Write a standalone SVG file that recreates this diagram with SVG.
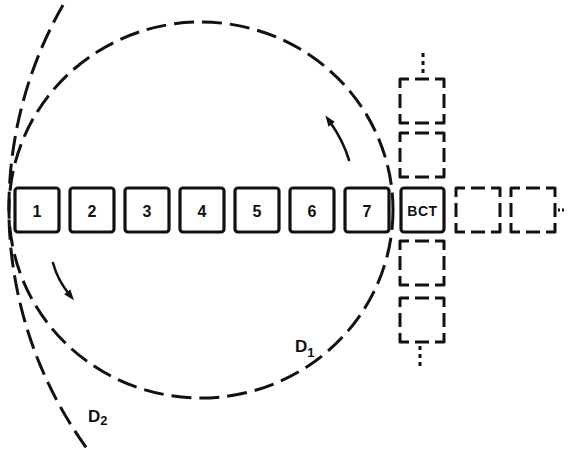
<svg xmlns="http://www.w3.org/2000/svg" width="569" height="450" viewBox="0 0 569 450">
  <defs>
    <style>
      .bg { fill: #ffffff; }
      .orbit { fill: none; stroke: #111; stroke-width: 3; stroke-dasharray: 20 8; stroke-linecap: butt; }
      .box { fill: #ffffff; stroke: #111; stroke-width: 3.2; }
      .slot { fill: none; stroke: #111; stroke-width: 3; stroke-dasharray: 18 6 14 6; stroke-dashoffset: 9; stroke-linejoin: round; }
      .dots { fill: none; stroke: #111; stroke-width: 3; stroke-dasharray: 4 4; }
      .flow { fill: none; stroke: #111; stroke-width: 2.6; stroke-linecap: round; }
      .num { font-family: "Liberation Sans", Arial, sans-serif; font-weight: bold; font-size: 16px; fill: #111; text-anchor: middle; }
      .bct { font-family: "Liberation Sans", Arial, sans-serif; font-weight: bold; font-size: 14px; fill: #111; text-anchor: middle; letter-spacing: 0.5px; }
      .lbl { font-family: "Liberation Sans", Arial, sans-serif; font-weight: bold; font-size: 17px; fill: #111; }
      .sub { font-size: 13px; }
    </style>
    <marker id="head" viewBox="0 0 11 8" refX="3" refY="4" markerWidth="11" markerHeight="8" markerUnits="userSpaceOnUse" orient="auto">
      <path d="M0,0 L11,4 L0,8 z" fill="#111"/>
    </marker>
  </defs>

  <rect class="bg" x="0" y="0" width="569" height="450"/>

  <!-- connectors: orbit paths and rotation arrows -->
  <g id="connectors">
    <ellipse id="path-d1" class="orbit" cx="201" cy="210" rx="192" ry="188"/>
    <path id="path-d2" class="orbit" d="M63,5 A409,409 0 0 0 88,450"/>
    <path class="flow" d="M349,160 C345,147 340,136 330,122" marker-end="url(#head)"/>
    <path class="flow" d="M53,263 C56,274 61,284 69,294" marker-end="url(#head)"/>
    <line class="dots" x1="423" y1="53" x2="423" y2="73"/>
    <line class="dots" x1="420" y1="346" x2="420" y2="368"/>
    <line class="dots" x1="558" y1="210" x2="564" y2="210" style="stroke-dasharray: 2 2"/>
  </g>

  <!-- numbered stations -->
  <g id="n1"><rect class="box" x="15" y="188" width="44" height="44" rx="3"/><text class="num" x="37" y="217">1</text></g>
  <g id="n2"><rect class="box" x="70" y="188" width="44" height="44" rx="3"/><text class="num" x="92" y="217">2</text></g>
  <g id="n3"><rect class="box" x="125" y="188" width="44" height="44" rx="3"/><text class="num" x="147" y="217">3</text></g>
  <g id="n4"><rect class="box" x="180" y="188" width="44" height="44" rx="3"/><text class="num" x="202" y="217">4</text></g>
  <g id="n5"><rect class="box" x="235" y="188" width="44" height="44" rx="3"/><text class="num" x="257" y="217">5</text></g>
  <g id="n6"><rect class="box" x="290" y="188" width="44" height="44" rx="3"/><text class="num" x="312" y="217">6</text></g>
  <g id="n7"><rect class="box" x="345" y="188" width="44" height="44" rx="3"/><text class="num" x="367" y="217">7</text></g>
  <g id="bct"><rect class="box" x="401" y="188" width="43" height="44" rx="3"/><text class="bct" x="422.5" y="215.5">BCT</text></g>

  <!-- open slots around the BCT -->
  <g id="slot-up1"><rect class="slot" x="400" y="79" width="44" height="44"/></g>
  <g id="slot-up2"><rect class="slot" x="400" y="133" width="44" height="44"/></g>
  <g id="slot-down1"><rect class="slot" x="400" y="241" width="44" height="44"/></g>
  <g id="slot-down2"><rect class="slot" x="400" y="298" width="44" height="44"/></g>
  <g id="slot-right1"><rect class="slot" x="456" y="188" width="44" height="44"/></g>
  <g id="slot-right2"><rect class="slot" x="511" y="188" width="44" height="44"/></g>

  <!-- orbit labels -->
  <g id="label-d1"><text class="lbl" x="295" y="352">D<tspan class="sub" dy="5">1</tspan></text></g>
  <g id="label-d2"><text class="lbl" x="88" y="422">D<tspan class="sub" dy="3">2</tspan></text></g>
</svg>
